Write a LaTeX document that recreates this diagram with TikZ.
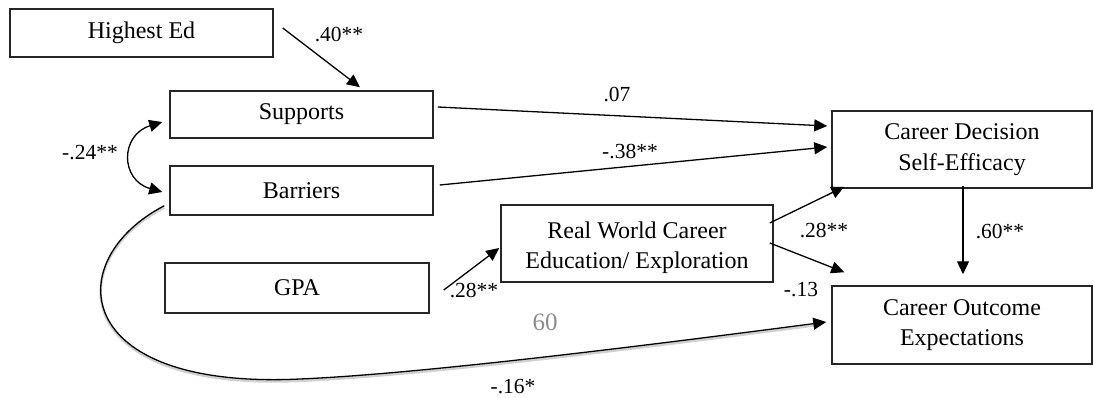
\documentclass[tikz,border=0pt]{standalone}
\usepackage{fontspec}
\setmainfont{Liberation Serif}
\usetikzlibrary{arrows.meta,calc}
\begin{document}
\begin{tikzpicture}[x=1pt,y=-1pt,
  box/.style={draw=black!85,line width=1.5pt,inner sep=0pt,align=center,
    font=\fontsize{24}{30.5}\selectfont},
  lbl/.style={inner sep=0pt,font=\fontsize{21.5}{26}\selectfont},
  arr/.style={line width=1.3pt,-{Triangle[length=13pt,width=12pt]}},
  darr/.style={line width=1.3pt,{Triangle[length=13pt,width=12pt]}-{Triangle[length=13pt,width=12pt]}}]
\useasboundingbox (0,0) rectangle (1094,398);
\node[box,minimum width=263pt,minimum height=48pt] (hed) at (141.5,33) {Highest Ed};
\node[box,minimum width=263pt,minimum height=47pt] (sup) at (301.5,114.5) {Supports};
\node[box,minimum width=263pt,minimum height=49pt] (bar) at (301.5,190.5) {Barriers};
\node[box,minimum width=264pt,minimum height=50pt] (gpa) at (297,288) {GPA};
\node[box,minimum width=272pt,minimum height=77pt] (rw) at (637,243.5) {\rule{0pt}{25pt}Real World Career\\Education/ Exploration};
\node[box,minimum width=260pt,minimum height=77pt] (cdse) at (962,149.5) {Career Decision\\Self-Efficacy};
\node[box,minimum width=260pt,minimum height=78pt] (coe) at (962,325) {Career Outcome\\Expectations};

\draw[arr] ($(hed.east)+(9,-5)$) -- ($(sup.north)+(58.5,-3)$);
\draw[arr] ($(sup.east)+(4,-7.5)$) -- ($(cdse.west)+(-4,-23.5)$);
\draw[arr] ($(bar.east)+(6,-5.5)$) -- ($(cdse.west)+(-4,-2.5)$);
\draw[arr] ($(gpa.east)+(14,2)$) -- ($(rw.west)+(-1,4.5)$);
\draw[arr] ($(rw.east)+(-4,-20.5)$) -- ($(cdse.south west)+(13,-2)$);
\draw[arr] ($(rw.east)+(-4,-0.5)$) -- ($(coe.north west)+(13,-13)$);
\draw[arr] ($(cdse.south)+(1,-3)$) -- ($(coe.north)+(1,-11)$);
\draw[darr] ($(sup.west)+(-7,7.5)$) .. controls (120,135) and (120,180) .. ($(bar.west)+(-7,1.5)$);
\coordinate (low) at (300,379);
\draw[line width=2.5pt,black!18,transform canvas={yshift=-1.8pt}] ($(bar.south west)+(-5,-10)$) .. controls (60,260) and (70,390) .. (low) .. controls (420,374) and (650,345) .. ($(coe.west)+(-12,-2)$);
\draw[arr] ($(bar.south west)+(-5,-10)$) .. controls (60,260) and (70,390) .. (low) .. controls (420,374) and (650,345) .. ($(coe.west)+(-5,-3)$);

\node[lbl] (l1) at (339,35) {.40**};
\node[lbl] (l2) at (617,95) {.07};
\node[lbl] (l3) at (630,152) {-.38**};
\node[lbl] (l4) at (474,291) {.28**};
\node[lbl] (l5) at (824,231) {.28**};
\node[lbl] (l6) at (801,290) {-.13};
\node[lbl] (l7) at (1000,232) {.60**};
\node[lbl] (l8) at (513,387) {-.16*};
\node[lbl] (l9) at (90,153) {-.24**};
\node[inner sep=0pt,text=black!45,font=\fontsize{25}{30}\selectfont] (pg) at (545,322) {60};
\end{tikzpicture}
\end{document}
